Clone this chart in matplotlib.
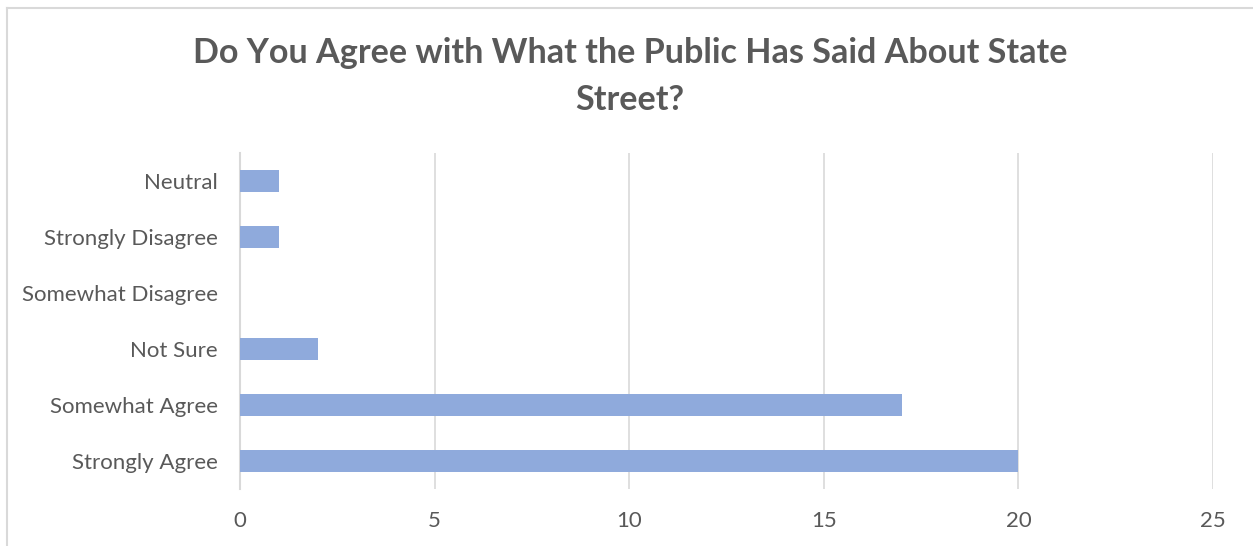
import matplotlib.pyplot as plt
from matplotlib.lines import Line2D

categories = ['Strongly Agree', 'Somewhat Agree', 'Not Sure',
              'Somewhat Disagree', 'Strongly Disagree', 'Neutral']
counts = [20, 17, 2, 0, 1, 1]
x_ticks = [0, 5, 10, 15, 20, 25]

BAR_COLOR = '#8FAADC'
TEXT_COLOR = '#595959'
GRID_COLOR = '#D9D9D9'


def main():
    plt.rcParams['font.family'] = ['Lato', 'DejaVu Sans']
    fig = plt.figure(figsize=(12.53, 5.46), dpi=100)
    ax = fig.add_axes([0.1915, 0.1044, 0.7766, 0.6154])

    ax.barh(range(len(categories)), counts, height=0.4, color=BAR_COLOR,
            zorder=3)
    ax.set_yticks(range(len(categories)))
    ax.set_yticklabels(categories)
    ax.set_ylim(-0.5, len(categories) - 0.5)
    ax.set_xlim(0, 25)
    ax.set_xticks(x_ticks)

    ax.grid(axis='x', color=GRID_COLOR, linewidth=1.2, zorder=0)
    for side in ('top', 'right', 'bottom'):
        ax.spines[side].set_visible(False)
    ax.spines['left'].set_color(GRID_COLOR)
    ax.spines['left'].set_linewidth(1.5)
    ax.tick_params(length=0, colors=TEXT_COLOR, labelsize=16)
    ax.tick_params(axis='x', pad=16)
    ax.tick_params(axis='y', pad=16)

    fig.text(0.503, 0.86, 'Do You Agree with What the Public Has Said About State\nStreet?',
             ha='center', va='center', fontsize=24.6, fontweight='bold',
             color=TEXT_COLOR, linespacing=1.6)

    # chart frame, cut off at right and bottom like the source
    fig.add_artist(Line2D([7 / 1253, 1], [1 - 8 / 546, 1 - 8 / 546],
                          transform=fig.transFigure, color=GRID_COLOR, lw=1.5))
    fig.add_artist(Line2D([7 / 1253, 7 / 1253], [0, 1 - 8 / 546],
                          transform=fig.transFigure, color=GRID_COLOR, lw=1.5))

    fig.savefig('out.png')


if __name__ == '__main__':
    main()
